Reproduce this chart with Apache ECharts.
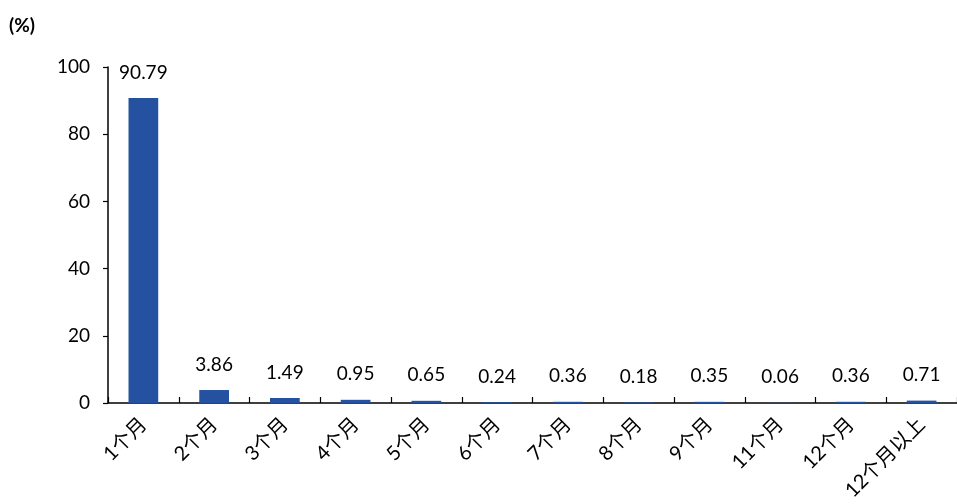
<!DOCTYPE html>
<html>
<head>
<meta charset="utf-8">
<script src="https://cdn.jsdelivr.net/npm/echarts@6/dist/echarts.min.js"></script>
<style>html,body{margin:0;padding:0;background:#fff}#c{width:957px;height:504px}</style>
</head>
<body>
<div id="c"></div>
<script>
const categories = ['1个月','2个月','3个月','4个月','5个月','6个月','7个月','8个月','9个月','11个月','12个月','12个月以上'];
const values = [90.79, 3.86, 1.49, 0.95, 0.65, 0.24, 0.36, 0.18, 0.35, 0.06, 0.36, 0.71];
const yTicks = [0, 20, 40, 60, 80, 100];
const unitLabel = '(%)';

const FONT = "Lato, 'Noto Sans CJK SC', sans-serif";
const chart = echarts.init(document.getElementById('c'), null, {renderer: 'canvas'});
chart.setOption({
  animation: false,
  graphic: [{type: 'text', left: 9, top: 16, style: {text: unitLabel, fontSize: 19, fontWeight: 'bold', fontFamily: FONT, fill: '#000'}}],
  grid: {left: 108, right: -4, top: 67, bottom: 101, containLabel: false},
  xAxis: {
    type: 'category', data: categories, boundaryGap: true,
    axisLine: {lineStyle: {color: '#000', width: 1.5}},
    axisTick: {show: true, inside: true, length: 6, alignWithLabel: false, lineStyle: {color: '#000', width: 1.2}},
    axisLabel: {rotate: 45, color: '#000', fontSize: 20, fontFamily: FONT, margin: 18, interval: 0}
  },
  yAxis: {
    type: 'value', min: yTicks[0], max: yTicks[yTicks.length - 1], interval: 20,
    axisLine: {show: true, lineStyle: {color: '#000', width: 1.5}},
    axisTick: {show: true, length: 5, lineStyle: {color: '#000', width: 1.2}},
    splitLine: {show: false},
    axisLabel: {color: '#000', fontSize: 19, fontFamily: FONT, margin: 18}
  },
  series: [{
    type: 'bar', data: values, barWidth: '42%',
    itemStyle: {color: '#2452A0'},
    label: {show: true, position: 'top', distance: 16, color: '#000', fontSize: 19, fontFamily: FONT,
      formatter: p => p.value.toFixed(2)}
  }]
});
</script>
</body>
</html>
